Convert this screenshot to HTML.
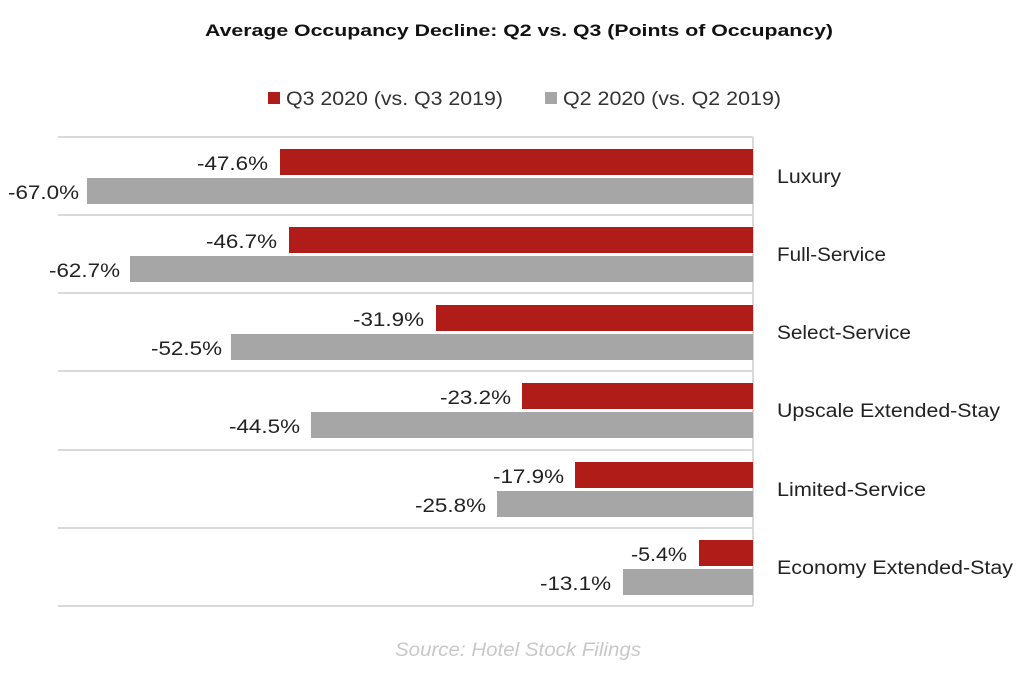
<!DOCTYPE html>
<html><head><style>body{margin:0;background:#fff}svg{display:block}text{font-family:"Liberation Sans",sans-serif}</style></head><body>
<svg width="1024" height="674" xmlns="http://www.w3.org/2000/svg">
<text x="205" y="36" textLength="628" lengthAdjust="spacingAndGlyphs" font-size="17" font-weight="bold" fill="#111">Average Occupancy Decline: Q2 vs. Q3 (Points of Occupancy)</text>
<rect x="268" y="92" width="12" height="12" fill="#b01c17"/>
<text x="286" y="105" textLength="217" lengthAdjust="spacingAndGlyphs" font-size="19" fill="#333">Q3 2020 (vs. Q3 2019)</text>
<rect x="545" y="92" width="12" height="12" fill="#a6a6a6"/>
<text x="563" y="105" textLength="218" lengthAdjust="spacingAndGlyphs" font-size="19" fill="#333">Q2 2020 (vs. Q2 2019)</text>
<g stroke="#d9d9d9" stroke-width="2">
<line x1="58" y1="137" x2="753" y2="137"/><line x1="58" y1="215" x2="753" y2="215"/><line x1="58" y1="293" x2="753" y2="293"/><line x1="58" y1="371" x2="753" y2="371"/><line x1="58" y1="450" x2="753" y2="450"/><line x1="58" y1="528" x2="753" y2="528"/><line x1="58" y1="606" x2="753" y2="606"/>
<line x1="753" y1="137" x2="753" y2="606"/>
</g>
<g font-size="19" fill="#222" lengthAdjust="spacingAndGlyphs">
<g transform="translate(0,137)"><rect x="280" y="12" width="473" height="26" fill="#b01c17"/><rect x="87" y="41" width="666" height="26" fill="#a6a6a6"/><text x="197" y="33" textLength="71" lengthAdjust="spacingAndGlyphs">-47.6%</text><text x="8" y="62" textLength="71" lengthAdjust="spacingAndGlyphs">-67.0%</text><text x="777" y="46" textLength="64" lengthAdjust="spacingAndGlyphs">Luxury</text></g>
<g transform="translate(0,215)"><rect x="289" y="12" width="464" height="26" fill="#b01c17"/><rect x="130" y="41" width="623" height="26" fill="#a6a6a6"/><text x="206" y="33" textLength="71" lengthAdjust="spacingAndGlyphs">-46.7%</text><text x="49" y="62" textLength="71" lengthAdjust="spacingAndGlyphs">-62.7%</text><text x="777" y="46" textLength="109" lengthAdjust="spacingAndGlyphs">Full-Service</text></g>
<g transform="translate(0,293)"><rect x="436" y="12" width="317" height="26" fill="#b01c17"/><rect x="231" y="41" width="522" height="26" fill="#a6a6a6"/><text x="353" y="33" textLength="71" lengthAdjust="spacingAndGlyphs">-31.9%</text><text x="151" y="62" textLength="71" lengthAdjust="spacingAndGlyphs">-52.5%</text><text x="777" y="46" textLength="134" lengthAdjust="spacingAndGlyphs">Select-Service</text></g>
<g transform="translate(0,371)"><rect x="522" y="12" width="231" height="26" fill="#b01c17"/><rect x="311" y="41" width="442" height="26" fill="#a6a6a6"/><text x="440" y="33" textLength="71" lengthAdjust="spacingAndGlyphs">-23.2%</text><text x="229" y="62" textLength="71" lengthAdjust="spacingAndGlyphs">-44.5%</text><text x="777" y="46" textLength="223" lengthAdjust="spacingAndGlyphs">Upscale Extended-Stay</text></g>
<g transform="translate(0,450)"><rect x="575" y="12" width="178" height="26" fill="#b01c17"/><rect x="497" y="41" width="256" height="26" fill="#a6a6a6"/><text x="493" y="33" textLength="71" lengthAdjust="spacingAndGlyphs">-17.9%</text><text x="415" y="62" textLength="71" lengthAdjust="spacingAndGlyphs">-25.8%</text><text x="777" y="46" textLength="149" lengthAdjust="spacingAndGlyphs">Limited-Service</text></g>
<g transform="translate(0,528)"><rect x="699" y="12" width="54" height="26" fill="#b01c17"/><rect x="623" y="41" width="130" height="26" fill="#a6a6a6"/><text x="631" y="33" textLength="56" lengthAdjust="spacingAndGlyphs">-5.4%</text><text x="540" y="62" textLength="71" lengthAdjust="spacingAndGlyphs">-13.1%</text><text x="777" y="46" textLength="236" lengthAdjust="spacingAndGlyphs">Economy Extended-Stay</text></g>
</g>
<text x="395" y="656" textLength="246" lengthAdjust="spacingAndGlyphs" font-size="19" font-style="italic" fill="#c8c8c8">Source: Hotel Stock Filings</text>
</svg>
</body></html>
